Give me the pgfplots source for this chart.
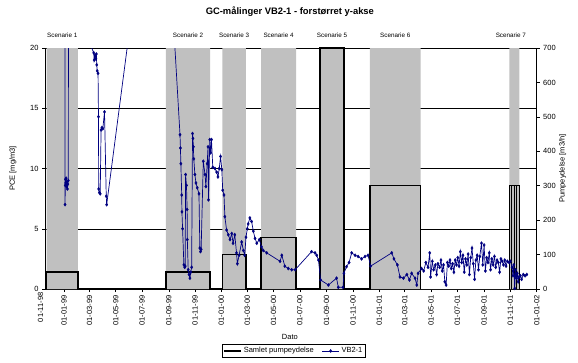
\documentclass[border=0pt]{standalone}
\usepackage{pgfplots}
\pgfplotsset{compat=1.18}
\usepackage{fontspec}
\setmainfont{Liberation Sans}
\definecolor{bargray}{HTML}{C0C0C0}
\definecolor{navy}{HTML}{000080}
\newcommand{\tickfont}{\fontsize{7.5}{8.5}\selectfont}
\newcommand{\scenfont}{\fontsize{6.3}{7.3}\selectfont}

\begin{document}
\begin{tikzpicture}
\useasboundingbox (-45pt,-73pt) rectangle (533pt,289pt);
\pgfplotsset{base/.style={scale only axis, width=491.7pt, height=241pt,
  at={(0pt,0pt)}, anchor=south west, xmin=17, xmax=1157,
  /pgf/number format/assume math mode=true}}

% ---------- Axis A: left axis, grid, gray scenario bands ----------
\begin{axis}[base,
  ymin=0, ymax=20, ytick={0,5,10,15,20},
  axis x line*=bottom, axis y line*=left,
  axis line style={-, black, line width=0.6pt},
  ymajorgrids, grid style={black, line width=0.5pt},
  xtick={61,120,181,242,304,365,426,486,547,608,670,731,792,851,912,973,1035,1096,1157},
  xticklabels={01-01-99,01-03-99,01-05-99,01-07-99,01-09-99,01-11-99,01-01-00,01-03-00,01-05-00,01-07-00,01-09-00,01-11-00,01-01-01,01-03-01,01-05-01,01-07-01,01-09-01,01-11-01,01-01-02},
  x tick label style={rotate=90, anchor=east, font=\tickfont},
  y tick label style={font=\tickfont},
  tick align=outside, major tick length=3pt,
  tick style={black, line width=0.5pt},
]
\addplot[fill=bargray, draw=none] coordinates {
(21,0)(21,20)(93,20)(93,0)
(297,0)(297,20)(400,20)(400,0)
(428,0)(428,20)(483,20)(483,0)
(518,0)(518,20)(599,20)(599,0)
(655,0)(655,20)(710,20)(710,0)
(770,0)(770,20)(888,20)(888,0)
(1093.5,0)(1093.5,20)(1116.6,20)(1116.6,0)
} \closedcycle;
\end{axis}

% ---------- Axis B: right axis, total pumping ----------
\begin{axis}[base,
  ymin=0, ymax=700, ytick={0,100,...,700},
  axis y line*=right, axis x line=none,
  axis line style={-, black, line width=0.6pt},
  y tick label style={font=\tickfont},
  tick align=outside, major tick length=3pt,
  tick style={black, line width=0.5pt},
  clip=false,
]
\addplot[black, line width=1.5pt] coordinates {
(21,0)(21,50)(93,50)(93,0)
(297,0)(297,50)(400,50)(400,0)
(428,0)(428,100)(483,100)(483,0)
(518,0)(518,150)(599,150)(599,0)
(655,0)(655,700)(710,700)(710,0)
(770,0)(770,300)(888,300)(888,0)
};
\addplot[black, line width=1.1pt] coordinates {
(1093.5,0)(1093.5,300)(1099,300)(1099,0)(1099,300)(1105,300)(1105,0)(1105,300)(1110.6,300)(1110.6,0)(1110.6,300)(1116.6,300)(1116.6,0)
};
\end{axis}

% ---------- Axis C: VB2-1 series, labels, legend ----------
\begin{axis}[base, hide axis,
  ymin=0, ymax=20, clip mode=individual,
  legend style={at={(0.506,-0.257)}, anchor=center, draw=black, line width=0.5pt,
    font=\tickfont, legend columns=2, inner sep=1pt,
    /tikz/every even column/.append style={column sep=6pt}},
]
\addlegendimage{black, line width=1.5pt, mark=none}
\addlegendentry{Samlet pumpeydelse}
\addplot[navy, line width=0.7pt, mark=diamond*, mark size=1.6pt, mark options={fill=navy, draw=navy, line width=0.3pt}] coordinates {
(63,60)(63.5,7.0)(64,8.6)(64.5,9.1)(65,8.8)(66,9.2)(67,8.5)(68,8.9)(69,8.3)(70,8.7)(71,9.0)(73,70)
(123,20.2)(130,19.6)(131,19.0)(133,19.4)(135,19.1)(136,19.5)(137,18.6)(138,18.1)(140,17.9)(141,14.3)(141.5,8.3)(143,8.0)(145,7.9)(147,13.2)(149,13.4)(151,13.3)(155,14.7)(159,7.7)(160,7.0)
(284,41.0)
(330,12.8)(331,11.7)(332,10.4)(334,7.8)(334.5,6.4)(336,5.0)(339,2.0)(341,1.8)(342,1.9)(343,9.5)(345,8.6)(346.5,6.6)(347,4.1)(349,1.6)(351,1.2)(353,0.9)(355,1.4)(357,1.8)
(359,12.9)(360,12.5)(361,11.8)(362,10.8)(364.5,9.5)(367,8.8)(370,8.4)(374,7.9)(376,3.4)(377.5,3.1)(379,3.3)
(384,10.6)(388,9.5)(390,8.5)(393,10.4)(395,11.8)(396,7.4)(399,12.4)(401,11.3)(403,12.4)(406,10.1)(411,10.0)(415,9.7)(418,9.3)(421,10.0)(424,11.0)(427,9.9)(429,8.2)(432,7.8)(434,6.0)(438,4.9)(442,4.5)(446,4.1)(450,4.6)(453,3.8)(457,4.5)(461,3.0)(463,2.1)(467,2.8)(473,3.9)(477,3.2)(480,2.8)
(483,4.3)(486,5.0)(488,5.4)(492,5.9)(496,5.6)(500,4.8)(504,4.2)(508,3.8)(514,4.1)(519,3.5)(523,3.2)(531,3.0)
(562,2.3)(566,2.8)(573,1.9)(581,1.7)(589,1.6)(597,1.6)
(635,3.1)(643,3.0)(647,2.8)(651,2.4)(656,0.75)(674,0.33)(693,0.9)(697,0.14)(708,0.14)(710,1.3)(716,1.85)(722,2.2)(728,3.0)(736,2.8)(743,2.7)(751,2.5)(759,2.7)(766,2.8)(772,1.9)
(821,3.0)(826,2.5)(834,2.0)(840,1.0)(848,0.9)(856,1.2)(862,0.75)(867,1.3)(875,0.9)(879,0.33)(882,1.3)
(890,1.7)(895,1.5)(900,2.2)(905,1.8)(909,3.0)(911,1.0)(915,2.3)(918,1.6)(922,2.0)(925,1.2)(928,2.1)(932,1.8)(935,2.4)(938,1.5)(941,2.0)(944,0.6)(947,0.33)(950,2.2)(953,1.9)(956,2.4)(959,1.7)(962,2.1)(965,1.4)(968,2.4)(971,2.0)(974,2.6)(977,1.9)(980,3.1)(983,2.2)(986,2.8)(989,1.4)(992,2.5)(995,2.0)(998,2.9)(1001,1.2)(1004,2.6)(1007,3.4)(1010,2.1)(1013,0.8)(1016,2.4)(1019,2.8)(1022,1.6)(1025,2.7)(1029,3.8)(1032,2.0)(1035,3.65)(1038,1.5)(1041,2.6)(1044,2.2)(1047,3.0)(1050,1.6)(1053,2.5)(1056,2.0)(1059,2.7)(1062,1.8)(1065,2.4)(1068,2.2)(1071,1.4)(1074,2.5)(1077,2.3)(1080,2.0)(1083,2.4)(1086,1.9)(1089,2.3)(1093,2.2)(1096,2.3)(1100,1.8)(1102,1.1)(1104,2.0)(1106,0.05)(1108,1.6)(1110,0.9)(1112,1.3)(1114,0.6)(1116,1.0)(1119,1.1)(1122,0.8)(1126,1.2)(1130,1.1)(1134,1.2)
};
\addlegendentry{VB2-1}
% first date label (lies left of the plot area, as in the reference)
\node[rotate=90, anchor=east, font=\tickfont, inner sep=0.3333em] at (axis cs:0,0) [yshift=-3pt] {01-11-98};
% scenario labels
\node[font=\scenfont] at (axis cs:57,21.05) {Scenarie 1};
\node[font=\scenfont] at (axis cs:348.5,21.05) {Scenarie 2};
\node[font=\scenfont] at (axis cs:455.5,21.05) {Scenarie 3};
\node[font=\scenfont] at (axis cs:558.5,21.05) {Scenarie 4};
\node[font=\scenfont] at (axis cs:682.5,21.05) {Scenarie 5};
\node[font=\scenfont] at (axis cs:829,21.05) {Scenarie 6};
\node[font=\scenfont] at (axis cs:1097,21.05) {Scenarie 7};
% titles and axis labels
\node[font=\bfseries\fontsize{9.4}{11}\selectfont] at (axis description cs:0.498,1.149) {GC-målinger VB2-1 - forstørret y-akse};
\node[font=\tickfont, rotate=90] at (axis description cs:-0.065,0.5) {PCE [mg/m3]};
\node[font=\tickfont, rotate=90] at (axis description cs:1.053,0.5) {Pumpeydelse [m3/h]};
\node[font=\tickfont] at (axis description cs:0.498,-0.199) {Dato};
\end{axis}
\end{tikzpicture}
\end{document}
